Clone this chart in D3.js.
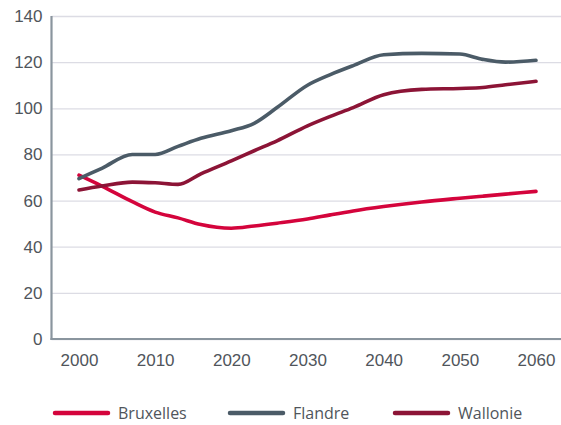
<!DOCTYPE html>
<html>
<head>
<meta charset="utf-8">
<script src="https://cdn.jsdelivr.net/npm/d3@7"></script>
<style>
  body { margin: 0; background: #fff; }
  svg { display: block; font-family: "Open Sans", sans-serif; }
</style>
</head>
<body>
<svg></svg>
<script>
// years shared by the three series
const YEARS = [2000, 2003, 2007, 2010, 2013, 2016, 2020, 2023, 2026, 2030, 2033, 2036, 2040, 2045, 2050, 2053, 2056, 2060];

const BRUXELLES = [71, 66.3, 59.5, 55, 52.5, 49.6, 48, 49, 50.2, 52, 53.8, 55.5, 57.4, 59.4, 61, 61.9, 62.8, 64];
const FLANDRE = [69.5, 74, 80, 80, 83.5, 87, 90.3, 93.5, 100.3, 110, 114.6, 118.5, 123.2, 123.8, 123.5, 121.2, 120, 120.8];
const WALLONIE = [64.6, 66.3, 68, 67.7, 67, 71.6, 77.2, 81.6, 85.9, 92.4, 96.5, 100.3, 105.9, 108.2, 108.6, 109, 110.2, 111.7];

const SERIES_NAMES = ['Bruxelles', 'Flandre', 'Wallonie'];
const SERIES_COLORS = ['#d4043c', '#4b5b67', '#8c1436'];

const X_TICKS = [2000, 2010, 2020, 2030, 2040, 2050, 2060];
const Y_TICKS = [0, 20, 40, 60, 80, 100, 120, 140];

const WIDTH = 561;
const HEIGHT = 425;
const PLOT = {left: 51.5, right: 561, top: 16, bottom: 339};

const svg = d3.select('svg')
.attr('width', WIDTH)
.attr('height', HEIGHT);

const xScale = d3.scaleLinear().domain([2000, 2060]).range([79, 536]);
const yScale = d3.scaleLinear().domain([0, 140]).range([PLOT.bottom, PLOT.top]);

const textColor = '#50555b';

//gridlines + y labels
const yAxis = svg.append('g')
.attr('transform', `translate(${PLOT.left},0)`)
.call(d3.axisLeft(yScale).tickValues(Y_TICKS).tickSize(-(PLOT.right - PLOT.left)).tickPadding(9));

yAxis.select('.domain').remove();
yAxis.selectAll('line')
.attr('stroke', '#dcdce4')
.attr('stroke-width', 1.3);
yAxis.selectAll('text')
.attr('fill', textColor)
.style('font-size', '17px');

//x labels
const xAxis = svg.append('g')
.attr('transform', `translate(0,${PLOT.bottom})`)
.call(d3.axisBottom(xScale).tickValues(X_TICKS).tickFormat(d3.format('d')).tickSize(0).tickPadding(15));

xAxis.select('.domain').remove();
xAxis.selectAll('text')
.attr('fill', textColor)
.style('font-size', '17px');

//axis lines
svg.append('line')
.attr('x1', PLOT.left).attr('x2', PLOT.left)
.attr('y1', yScale(140)).attr('y2', PLOT.bottom + 1)
.attr('stroke', '#8a959e')
.attr('stroke-width', 2.2);

svg.append('line')
.attr('x1', PLOT.left - 1).attr('x2', PLOT.right)
.attr('y1', PLOT.bottom).attr('y2', PLOT.bottom)
.attr('stroke', '#8a959e')
.attr('stroke-width', 2.2);

//lines
const seriesData = [BRUXELLES, FLANDRE, WALLONIE].map((vals, i) => ({
    name: SERIES_NAMES[i],
    color: SERIES_COLORS[i],
    points: YEARS.map((y, j) => ({year: y, value: vals[j]}))
}));

const line = d3.line()
.x(d => xScale(d.year))
.y(d => yScale(d.value))
.curve(d3.curveMonotoneX);

svg.selectAll('.series')
.data(seriesData)
.enter()
.append('path')
.attr('class', 'series')
.attr('d', d => line(d.points))
.attr('fill', 'none')
.attr('stroke', d => d.color)
.attr('stroke-width', 3.6)
.attr('stroke-linejoin', 'round')
.attr('stroke-linecap', 'round');

//legend
const legendX = [53, 228, 393];
const legend = svg.selectAll('.legend')
.data(seriesData)
.enter()
.append('g')
.attr('class', 'legend')
.attr('transform', (d, i) => `translate(${legendX[i]},413)`);

legend.append('line')
.attr('x1', 2).attr('x2', 55)
.attr('stroke', d => d.color)
.attr('stroke-width', 4.5)
.attr('stroke-linecap', 'round');

legend.append('text')
.attr('x', 65)
.attr('dy', '0.35em')
.attr('fill', textColor)
.style('font-size', '16px')
.text(d => d.name);
</script>
</body>
</html>
